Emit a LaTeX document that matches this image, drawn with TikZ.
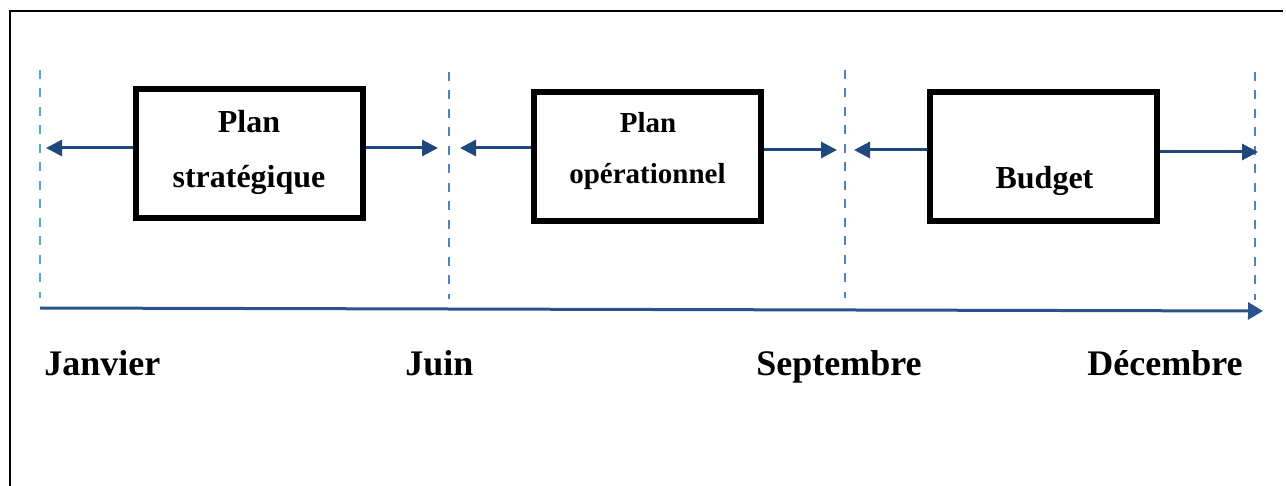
\documentclass[tikz,border=0pt]{standalone}
\usepackage{fontspec}
\setmainfont{Liberation Serif}
\usetikzlibrary{arrows.meta}
\definecolor{arrowblue}{RGB}{31,73,125}
\definecolor{axisblue}{RGB}{42,82,140}
\definecolor{dashcyan}{RGB}{75,172,198}
\definecolor{dashblue}{RGB}{79,129,189}
\begin{document}
\begin{tikzpicture}[x=.5pt,y=-.5pt,>={Triangle[length=8pt,width=8pt]},
  box/.style={draw,line width=3pt,minimum width=113.5pt,minimum height=64.5pt,inner sep=0pt},
  txt/.style={anchor=base,inner sep=0pt,font=\bfseries\fontsize{16}{18}\selectfont},
  month/.style={anchor=base west,inner sep=0pt,font=\bfseries\fontsize{18}{20}\selectfont},
  link/.style={->,arrowblue,line width=1.5pt},
  sep/.style={dashblue,line width=1pt,dash pattern=on 4.5pt off 4.75pt}]
    \useasboundingbox (0,0) rectangle (1286,486);
    % frame
    \draw[line width=1.25pt] (10,486) -- (10,11) -- (1283,11);
    % phase limits
    \draw[sep,dashcyan] (40,70) -- (40,298);
    \draw[sep] (449,72) -- (449,299);
    \draw[sep] (845,70) -- (845,298);
    \draw[sep] (1255,72) -- (1255,300);
    % boxes
    \node[box] (strat) at (249,154) {};
    \node[box] (oper) at (647.5,156.5) {};
    \node[box] (budg) at (1043.5,156.5) {};
    \node[txt] (strat1) at (249,133) {Plan};
    \node[txt] (strat2) at (249,188) {stratégique};
    \node[txt,font=\bfseries\fontsize{14.5}{16}\selectfont] (oper1) at (648,133) {Plan};
    \node[txt,font=\bfseries\fontsize{14.5}{16}\selectfont] (oper2) at (647.5,184) {opérationnel};
    \node[txt] (budg1) at (1044.5,189) {Budget};
    % arrow ends
    \coordinate (a1) at (46,148);
    \coordinate (a2) at (438,148);
    \coordinate (a3) at (460,148);
    \coordinate (a4) at (837,150);
    \coordinate (a5) at (854,150);
    \coordinate (a6) at (1258,152);
    \draw[link] (strat.west |- a1) -- (a1);
    \draw[link] (strat.east |- a2) -- (a2);
    \draw[link] (oper.west |- a3) -- (a3);
    \draw[link] (oper.east |- a4) -- (a4);
    \draw[link] (budg.west |- a5) -- (a5);
    \draw[link] (budg.east |- a6) -- (a6);
    % time axis
    \coordinate (t0) at (40,308);
    \coordinate (t1) at (1263,311);
    \draw[->,axisblue,line width=1.5pt,>={Triangle[length=7.5pt,width=8.5pt]}] (t0) -- (t1);
    \node[month] (jan) at (44,376) {Janvier};
    \node[month] (jun) at (405,376) {Juin};
    \node[month] (sep) at (756,376) {Septembre};
    \node[month] (dec) at (1087,376) {Décembre};
\end{tikzpicture}
\end{document}
